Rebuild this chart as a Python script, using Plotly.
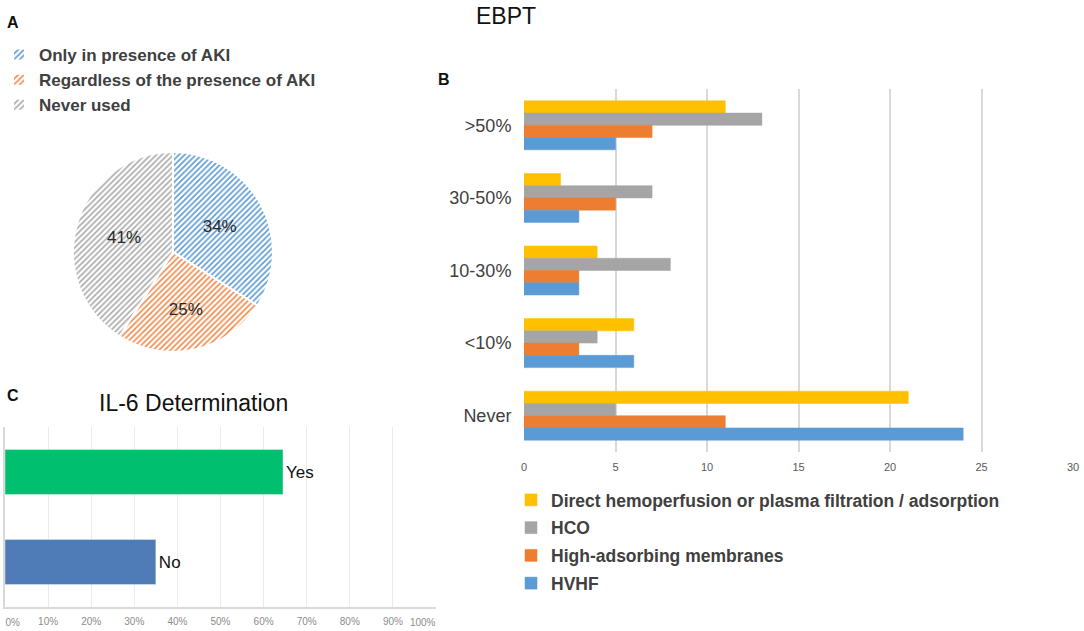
import plotly.graph_objects as go

# ---- Panel A data (pie) ----
pie_labels = ["Only in presence of AKI", "Regardless of the presence of AKI", "Never used"]
pie_values = [34, 25, 41]
pie_colors = ["#5B9BD5", "#F08A4B", "#AAAAAA"]

# ---- Panel B data (EBPT) ----
ebpt_categories = [">50%", "30-50%", "10-30%", "<10%", "Never"]
direct_hp = [11, 2, 4, 6, 21]
hco = [13, 7, 8, 4, 5]
high_ads = [7, 5, 3, 3, 11]
hvhf = [5, 3, 3, 6, 24]
ebpt_series = [
    ("Direct hemoperfusion or plasma filtration / adsorption", direct_hp, "#FFC000"),
    ("HCO", hco, "#A5A5A5"),
    ("High-adsorbing membranes", high_ads, "#ED7D31"),
    ("HVHF", hvhf, "#5B9BD5"),
]
ebpt_ticks = [0, 5, 10, 15, 20, 25, 30]

# ---- Panel C data (IL-6) ----
il6_categories = ["No", "Yes"]
il6_values = [0.35, 0.645]
il6_colors = ["#4F7CB6", "#00BF6F"]
il6_tickvals = [0, 0.1, 0.2, 0.3, 0.4, 0.5, 0.6, 0.7, 0.8, 0.9, 1.0]
il6_ticklabels = ["0%", "10%", "20%", "30%", "40%", "50%", "60%", "70%", "80%", "90%", "100%"]

W, H = 1084, 631
def px(x):
    return x / W
def py(y):
    return 1 - y / H

FONT = "Liberation Sans, Arial, Helvetica, sans-serif"

fig = go.Figure()

fig.add_trace(go.Pie(
    labels=pie_labels, values=pie_values, sort=False, direction="clockwise", rotation=0,
    marker=dict(colors=["white"] * 3,
                pattern=dict(shape="/", fgcolor=pie_colors, bgcolor="white", size=4, solidity=0.4),
                line=dict(color="white", width=2)),
    textinfo="percent", textposition="inside", insidetextorientation="horizontal",
    textfont=dict(size=17, color="#2A2A2A", family=FONT),
    domain=dict(x=[px(73), px(273)], y=[py(352), py(152)]),
    legend="legend", hoverinfo="label+percent",
))

for name, vals, col in ebpt_series:
    fig.add_trace(go.Bar(
        y=ebpt_categories, x=vals, name=name, orientation="h",
        marker=dict(color=col, line=dict(color=col, width=0.5)),
        xaxis="x", yaxis="y", legend="legend2", legendgroup=name,
    ))

fig.add_trace(go.Bar(
    y=il6_categories, x=il6_values, orientation="h", width=0.5,
    marker=dict(color=il6_colors),
    text=il6_categories, textposition="outside",
    textfont=dict(size=17, color="#111111", family=FONT),
    xaxis="x2", yaxis="y2", showlegend=False, cliponaxis=False,
))

# empty helper traces so the end-label axes of panel C are drawn
for ax in ("x3", "x4"):
    fig.add_trace(go.Scatter(x=[], y=[], mode="markers", xaxis=ax, yaxis="y2",
                             showlegend=False, hoverinfo="skip"))

tick_font_c = dict(size=10, color="#8C8C8C")
c_dom = [px(5), px(436)]

fig.update_layout(
    width=W, height=H, margin=dict(l=0, r=0, t=0, b=0, autoexpand=False),
    paper_bgcolor="white", plot_bgcolor="white",
    font=dict(family=FONT, color="#404040"),
    barmode="group", bargap=0.325, bargroupgap=0,
    xaxis=dict(domain=[px(524), px(1073)], range=[0, 30], tickvals=ebpt_ticks,
               showgrid=True, gridcolor="#D9D9D9", gridwidth=1.5, zeroline=False,
               showline=False, ticks="outside", ticklen=5, tickcolor="rgba(0,0,0,0)",
               tickfont=dict(size=11, color="#595959"), anchor="y", automargin=False,
               ticklabeloverflow="allow"),
    yaxis=dict(domain=[py(452), py(89)], categoryorder="array", categoryarray=ebpt_categories,
               autorange="reversed",
               showgrid=False, showline=False, zeroline=False,
               ticks="outside", ticklen=8, tickcolor="rgba(0,0,0,0)",
               tickfont=dict(size=18, color="#404040"), anchor="x", automargin=False),
    xaxis2=dict(domain=c_dom, range=[0, 1], tickvals=il6_tickvals[1:-1],
                ticktext=il6_ticklabels[1:-1],
                showgrid=True, gridcolor="#EBEBEB", gridwidth=1, zeroline=False,
                showline=True, linecolor="#D9D9D9", linewidth=1.5,
                ticks="outside", ticklen=4, tickcolor="rgba(0,0,0,0)",
                tickfont=tick_font_c, anchor="y2", automargin=False,
                ticklabeloverflow="allow"),
    xaxis3=dict(domain=c_dom, range=[0, 1], overlaying="x2", anchor="y2", side="bottom",
                tickvals=il6_tickvals[:1], ticktext=il6_ticklabels[:1],
                ticklabelposition="outside right", ticklabelstandoff=6,
                showgrid=False, zeroline=False, showline=False,
                ticks="outside", ticklen=4, tickcolor="rgba(0,0,0,0)",
                tickfont=tick_font_c, automargin=False, ticklabeloverflow="allow"),
    xaxis4=dict(domain=c_dom, range=[0, 1], overlaying="x2", anchor="y2", side="bottom",
                tickvals=il6_tickvals[-1:], ticktext=il6_ticklabels[-1:],
                ticklabelposition="outside left", ticklabelstandoff=6,
                showgrid=False, zeroline=False, showline=False,
                ticks="outside", ticklen=4, tickcolor="rgba(0,0,0,0)",
                tickfont=tick_font_c, automargin=False, ticklabeloverflow="allow"),
    yaxis2=dict(domain=[py(607), py(427)], categoryorder="array", categoryarray=il6_categories,
                showgrid=False, zeroline=False, showticklabels=False,
                showline=True, linecolor="#D9D9D9", linewidth=1.5, anchor="x2",
                automargin=False),
    legend=dict(x=px(-1), y=py(37), xanchor="left", yanchor="top",
                font=dict(size=17, color="#404040", family=FONT, weight="bold"),
                bgcolor="rgba(0,0,0,0)"),
    legend2=dict(x=px(511), y=py(482), xanchor="left", yanchor="top",
                 traceorder="grouped", tracegroupgap=2,
                 font=dict(size=17.5, color="#404040", family=FONT, weight="bold"),
                 bgcolor="rgba(0,0,0,0)"),
    annotations=[
        dict(text="<b>A</b>", x=px(13), y=py(23), xref="paper", yref="paper", showarrow=False,
             xanchor="center", yanchor="middle", font=dict(size=16, color="#111111")),
        dict(text="<b>B</b>", x=px(444), y=py(80), xref="paper", yref="paper", showarrow=False,
             xanchor="center", yanchor="middle", font=dict(size=16, color="#111111")),
        dict(text="<b>C</b>", x=px(13), y=py(395), xref="paper", yref="paper", showarrow=False,
             xanchor="center", yanchor="middle", font=dict(size=16, color="#111111")),
        dict(text="EBPT", x=px(506), y=py(16), xref="paper", yref="paper", showarrow=False,
             xanchor="center", yanchor="middle", font=dict(size=23, color="#111111")),
        dict(text="IL-6 Determination", x=px(193), y=py(403), xref="paper", yref="paper",
             showarrow=False, xanchor="center", yanchor="middle",
             font=dict(size=23, color="#111111")),
    ],
)

fig.write_html("out.html", config={"displayModeBar": False},
               post_script="document.body.style.margin='0px';document.body.style.overflow='hidden';")
